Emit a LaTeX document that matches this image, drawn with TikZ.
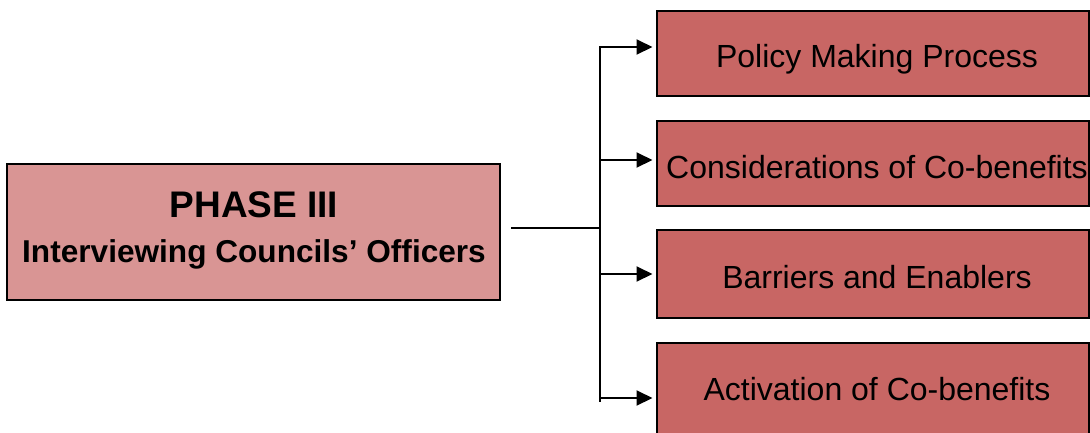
\documentclass[tikz,border=0pt]{standalone}
\usepackage{fontspec}
\setmainfont{Liberation Sans}
\usetikzlibrary{arrows.meta}
\definecolor{phasefill}{HTML}{D99594}
\definecolor{topicfill}{HTML}{C86664}
\tikzset{
  phasebox/.style={draw=black, line width=2bp, fill=phasefill, rectangle, inner sep=0pt},
  topicbox/.style={draw=black, line width=2bp, fill=topicfill, rectangle, inner sep=0pt,
                   minimum width=432bp, minimum height=86bp},
  topictext/.style={anchor=base, inner sep=0pt, font=\fontsize{32bp}{36bp}\selectfont},
  link/.style={line width=2bp},
  branch/.style={line width=2bp, -{Triangle[length=16bp,width=15bp]}, shorten >=3bp}
}
\begin{document}
\begin{tikzpicture}[x=1bp, y=-1bp]
  \useasboundingbox (0,0) rectangle (1090,432);

  % phase box
  \node[phasebox, minimum width=492bp, minimum height=136bp] (phase) at (253.5,231.5) {};
  \node[anchor=base, inner sep=0pt, font=\bfseries\fontsize{37bp}{40bp}\selectfont] (phasetitle) at (254,217) {PHASE III};
  \node[anchor=base, inner sep=0pt, font=\bfseries\fontsize{31.6bp}{36bp}\selectfont] (phasesub) at (254,262) {Interviewing Councils’ Officers};

  % topic boxes
  \node[topicbox, minimum height=85bp] (t1) at (872.5,53.5) {};
  \node[topicbox, minimum height=85bp] (t2) at (872.5,163) {};
  \node[topicbox, minimum height=88bp] (t3) at (872.5,274) {};
  \node[topicbox, minimum height=100bp] (t4) at (872.5,393) {};
  \node[topictext] (l1) at (877,67) {Policy Making Process};
  \node[topictext] (l2) at (877,178) {Considerations of Co-benefits};
  \node[topictext] (l3) at (877,288) {Barriers and Enablers};
  \node[topictext] (l4) at (877,400) {Activation of Co-benefits};

  % connector tree
  \coordinate (start) at (511,228);
  \coordinate (hub) at (600,228);
  \coordinate (bustop) at (600,46);
  \coordinate (busbot) at (600,402);
  \coordinate (b1) at (600,47);
  \coordinate (b2) at (600,160);
  \coordinate (b3) at (600,274);
  \coordinate (b4) at (600,398);

  \draw[link] (start) -- (hub);
  \draw[link] (bustop) -- (busbot);
  \draw[branch] (b1) -- (b1 -| t1.west);
  \draw[branch] (b2) -- (b2 -| t2.west);
  \draw[branch] (b3) -- (b3 -| t3.west);
  \draw[branch] (b4) -- (b4 -| t4.west);
\end{tikzpicture}
\end{document}
